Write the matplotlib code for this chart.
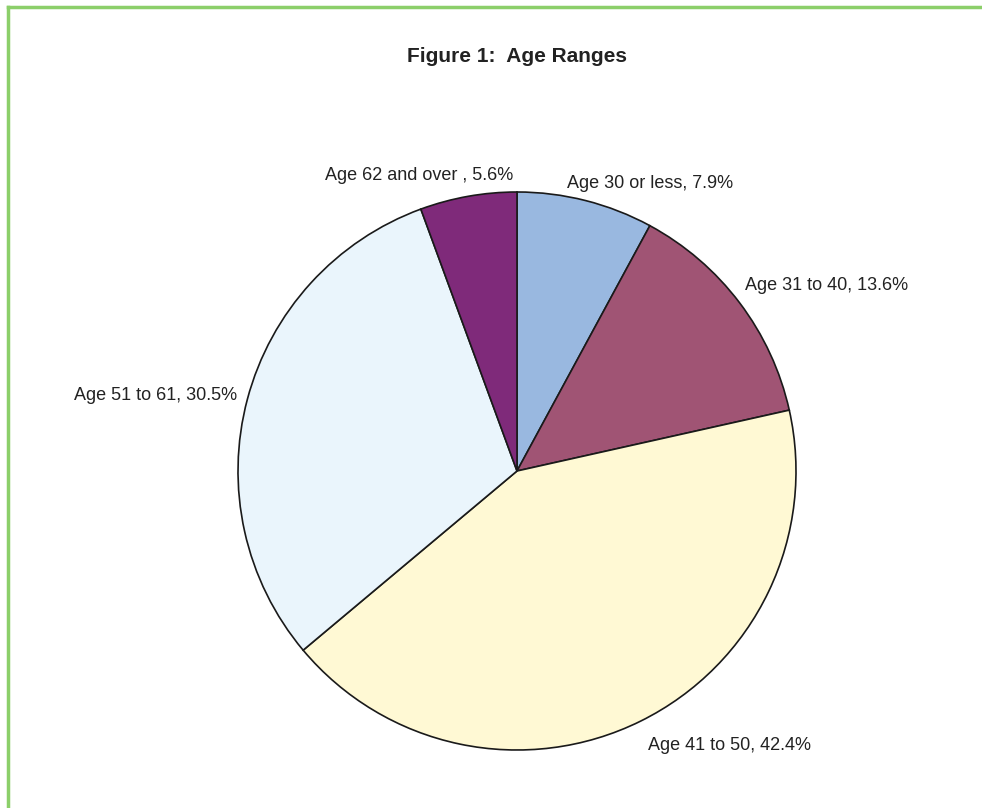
import matplotlib
matplotlib.use('Agg')
import matplotlib.pyplot as plt
from matplotlib.lines import Line2D

plt.rcParams['font.family'] = ['Liberation Sans', 'DejaVu Sans']

# data
labels = ['Age 30 or less', 'Age 31 to 40', 'Age 41 to 50', 'Age 51 to 61', 'Age 62 and over ']
values = [7.9, 13.6, 42.4, 30.5, 5.6]
colors = ['#99b8e0', '#a05474', '#fff9d4', '#eaf5fc', '#7f2a7a']

W, H = 982, 808
fig = plt.figure(figsize=(W / 100, H / 100), dpi=100)

# green frame (top + left)
fig.add_artist(Line2D([8 / W, 1], [1 - 7 / H, 1 - 7 / H], color='#8ccf6a', lw=2.5))
fig.add_artist(Line2D([8 / W, 8 / W], [0, 1 - 7 / H], color='#8ccf6a', lw=2.5))

fig.text(517 / W, 1 - 56 / H, 'Figure 1:  Age Ranges', ha='center', va='center',
         fontsize=15, fontweight='bold', color='#222222')

# pie axes: center (517, 471), radius 279 px
cx, cy, r = 517, 471, 279
ax = fig.add_axes([(cx - r) / W, (H - cy - r) / H, 2 * r / W, 2 * r / H])
ax.pie(values, colors=colors, startangle=90, counterclock=False,
       wedgeprops=dict(edgecolor='#1a1a1a', linewidth=1.2))
ax.set_xlim(-1, 1)
ax.set_ylim(-1, 1)
ax.axis('off')

# label positions (pixels) and alignment
lab_pos = [(567, 183, 'left'), (745, 286, 'left'), (648, 746, 'left'),
           (237, 396, 'right'), (513, 176, 'right')]
for lab, v, (x, y, ha) in zip(labels, values, lab_pos):
    fig.text(x / W, 1 - y / H, f'{lab}, {v:.1f}%', ha=ha, va='center',
             fontsize=13, color='#222222')

fig.savefig('out.png', dpi=100, facecolor='white')
